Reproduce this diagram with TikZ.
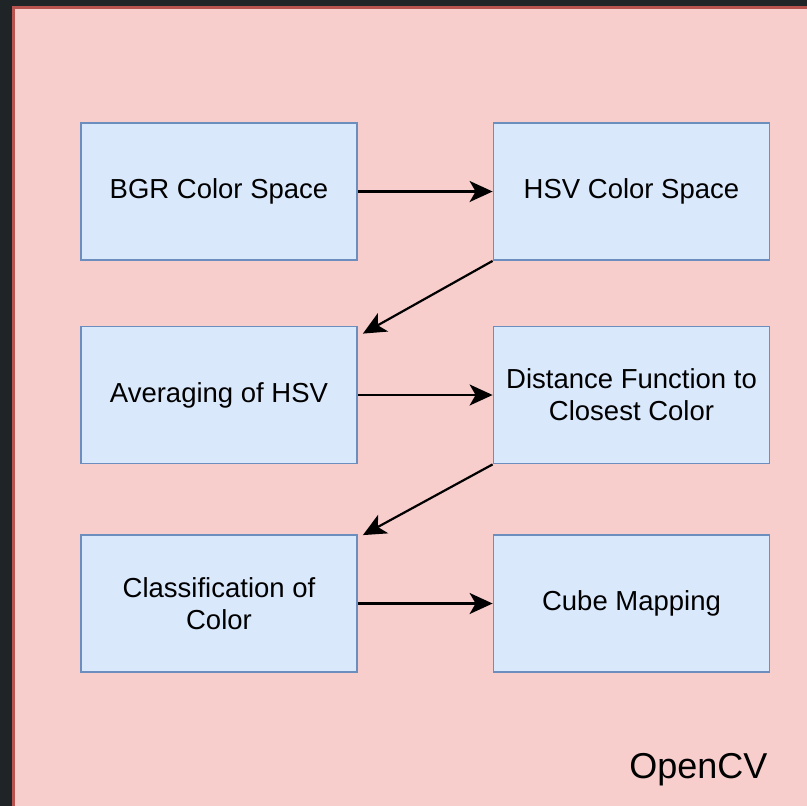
\documentclass[tikz,border=0pt]{standalone}
\usepackage{fontspec}
\setmainfont{Liberation Sans}
\usetikzlibrary{arrows.meta}
\definecolor{darkbg}{HTML}{1F2426}
\definecolor{pinkfill}{HTML}{F8CECC}
\definecolor{pinkline}{HTML}{B85450}
\definecolor{bluefill}{HTML}{DAE8FC}
\definecolor{blueline}{HTML}{6C8EBF}
\tikzset{
  procbox/.style={draw=blueline, fill=bluefill, line width=1.8pt, minimum width=276pt, minimum height=137pt, align=center, font=\fontsize{27.5}{32}\selectfont, inner sep=0pt},
  flow/.style={line width=2.2pt, -{Stealth[length=23pt,width=21pt,inset=6pt]}}
}
\begin{document}
\begin{tikzpicture}[x=1pt,y=-1pt]
\useasboundingbox (0,0) rectangle (807,806);
\fill[darkbg] (0,0) rectangle (807,806);
\draw[fill=pinkfill, draw=pinkline, line width=3pt] (13.5,7.5) rectangle (812,812);
\node[procbox] (bgr) at (219,191.5) {BGR Color Space};
\node[procbox] (hsv) at (631.5,191.5) {HSV Color Space};
\node[procbox] (avg) at (219,395) {Averaging of HSV};
\node[procbox] (dist) at (631.5,395) {Distance Function to\\Closest Color};
\node[procbox] (cls) at (219,603.5) {Classification of\\Color};
\node[procbox] (cube) at (631.5,603.5) {Cube Mapping};
\node[font=\fontsize{36}{40}\selectfont, anchor=base east] (ocv) at (771,778) {OpenCV};
\draw[flow] (bgr.east) -- (hsv.west);
\draw[flow] (hsv.south west) -- ([xshift=5pt,yshift=-8pt]avg.north east);
\draw[flow] (avg.east) -- (dist.west);
\draw[flow] (dist.south west) -- ([xshift=5pt,yshift=-1pt]cls.north east);
\draw[flow] (cls.east) -- (cube.west);
\end{tikzpicture}
\end{document}
